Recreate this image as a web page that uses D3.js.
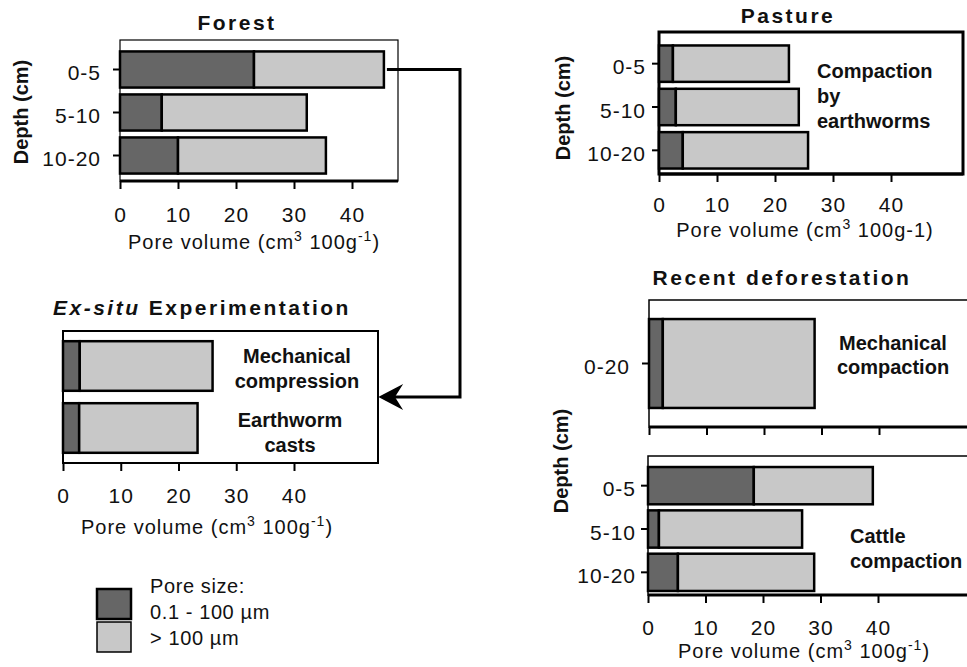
<!DOCTYPE html>
<html lang="en">
<head>
<meta charset="utf-8">
<title>Pore volume by land use</title>
<script src="https://d3js.org/d3.v7.min.js"></script>
<style>
  body { margin: 0; background: #fff; }
  text { font-family: "Liberation Sans", Arial, sans-serif; fill: #111; }
</style>
</head>
<body>
<div id="chart"></div>
<script>
// data (pore volume, cm3 100g-1)
const xTicks = [0, 10, 20, 30, 40];
const poreClasses = ["Pore size:", "0.1 - 100 µm", "> 100 µm"];

const forestDepths = ["0-5", "5-10", "10-20"];
const forestFine = [23.1, 7.2, 10.0];
const forestCoarse = [22.4, 25.0, 25.5];

const pastureDepths = ["0-5", "5-10", "10-20"];
const pastureFine = [2.4, 2.9, 4.1];
const pastureCoarse = [20.0, 21.2, 21.6];

const exsituTreatments = ["Mechanical compression", "Earthworm casts"];
const exsituFine = [2.9, 2.8];
const exsituCoarse = [23.0, 20.5];

const mechDepths = ["0-20"];
const mechFine = [2.4];
const mechCoarse = [26.4];

const cattleDepths = ["0-5", "5-10", "10-20"];
const cattleFine = [18.4, 1.9, 5.2];
const cattleCoarse = [20.7, 24.9, 23.7];

var width = 967, height = 667;
var svg = d3.select("#chart").append("svg")
  .attr("width", width).attr("height", height);

var color = d3.scaleOrdinal().domain(["fine", "coarse"]).range(["#666666", "#c8c8c8"]);

function drawPanel(p) {
  var g = svg.append("g");
  var x = d3.scaleLinear().domain([0, 40]).range([p.left, p.x40]);
  var y = d3.scaleBand().domain(p.cats).range(p.band)
    .paddingInner(p.pi).paddingOuter(p.po);
  var rows = p.cats.map(function(c, i) {
    return { cat: c, fine: p.fine[i], coarse: p.coarse[i] };
  });
  var series = d3.stack().keys(["fine", "coarse"])(rows);

  // frame
  g.append("rect")
    .attr("x", p.left).attr("y", p.top)
    .attr("width", p.right - p.left).attr("height", p.bottom - p.top)
    .attr("fill", "none").attr("stroke", "#000").attr("stroke-width", p.frameW);

  // stacked bars
  g.selectAll("g.series").data(series).join("g")
    .attr("class", "series")
    .attr("fill", function(d) { return color(d.key); })
    .selectAll("rect").data(function(d) { return d; }).join("rect")
    .attr("x", function(d) { return x(d[0]); })
    .attr("y", function(d) { return y(d.data.cat); })
    .attr("width", function(d) { return x(d[1]) - x(d[0]); })
    .attr("height", y.bandwidth())
    .attr("stroke", "#000").attr("stroke-width", 2.5);

  // x axis
  var ax = g.append("g").attr("transform", "translate(0," + p.bottom + ")")
    .call(d3.axisBottom(x).tickValues(xTicks).tickSize(8).tickPadding(p.tickPad)
      .tickFormat(p.noXLabels ? function() { return ""; } : d3.format("d")));
  ax.select(".domain").remove();
  ax.selectAll("line").attr("stroke", "#000").attr("stroke-width", 2);
  ax.selectAll("text").attr("font-size", 21).attr("font-family", null)
    .attr("letter-spacing", 1).attr("fill", "#111");
  g.append("line")
    .attr("x1", p.left).attr("x2", p.right)
    .attr("y1", p.bottom).attr("y2", p.bottom)
    .attr("stroke", "#000").attr("stroke-width", p.axisW);

  // y axis (ticks + labels only)
  if (p.yAxis) {
    var ay = g.append("g").attr("transform", "translate(" + p.left + ",0)")
      .call(d3.axisLeft(y).tickSize(7).tickPadding(p.yPad));
    ay.select(".domain").remove();
    ay.selectAll("line").attr("stroke", "#000").attr("stroke-width", 2);
    ay.selectAll("text").attr("font-size", 21).attr("font-family", null)
      .attr("letter-spacing", 1).attr("fill", "#111").attr("dy", "0.5em");
  }
  return { x: x, y: y };
}

function boldLabel(x, y, lines, anchor, lh) {
  var t = svg.append("text").attr("x", x).attr("y", y)
    .attr("text-anchor", anchor).attr("font-size", 20).attr("font-weight", "bold");
  lines.forEach(function(s, i) {
    t.append("tspan").attr("x", x).attr("dy", i ? lh : 0).text(s);
  });
}

function title(x, y, s, anchor) {
  return svg.append("text").attr("x", x).attr("y", y)
    .attr("text-anchor", anchor || "middle")
    .attr("font-size", 21).attr("font-weight", "bold")
    .attr("letter-spacing", 2.5).text(s);
}

function depthLabel(x, y) {
  svg.append("text")
    .attr("transform", "translate(" + x + "," + y + ") rotate(-90)")
    .attr("text-anchor", "middle").attr("font-size", 20).attr("font-weight", "bold")
    .text("Depth (cm)");
}

function poreLabel(x, y, supG) {
  var t = svg.append("text").attr("x", x).attr("y", y)
    .attr("text-anchor", "middle").attr("font-size", 20).attr("letter-spacing", 1);
  t.append("tspan").text("Pore volume (cm");
  t.append("tspan").attr("baseline-shift", "super").attr("font-size", 14).text("3");
  if (supG) {
    t.append("tspan").text(" 100g");
    t.append("tspan").attr("baseline-shift", "super").attr("font-size", 14).text("-1");
    t.append("tspan").text(")");
  } else {
    t.append("tspan").text(" 100g-1)");
  }
}

// ---- Forest ----
var forest = drawPanel({
  cats: forestDepths, fine: forestFine, coarse: forestCoarse,
  left: 120, top: 40, right: 398, bottom: 181, x40: 352,
  band: [48, 177], pi: 0.16, po: 0.08,
  frameW: 1.2, axisW: 3, tickPad: 18, yAxis: true, yPad: 12
});
title(237, 30, "Forest");
depthLabel(28, 112);
poreLabel(254, 249, true);

// ---- Pasture ----
drawPanel({
  cats: pastureDepths, fine: pastureFine, coarse: pastureCoarse,
  left: 659, top: 32, right: 963, bottom: 174, x40: 891,
  band: [42, 172], pi: 0.16, po: 0.08,
  frameW: 3, axisW: 3, tickPad: 15, yAxis: true, yPad: 6
});
title(788, 23, "Pasture");
depthLabel(570, 108);
poreLabel(805, 237, false);
boldLabel(817, 78, ["Compaction", "by", "earthworms"], "start", 25);

// ---- Ex-situ experimentation ----
var exsitu = drawPanel({
  cats: exsituTreatments, fine: exsituFine, coarse: exsituCoarse,
  left: 63, top: 331, right: 378, bottom: 463, x40: 294,
  band: [335, 459], pi: 0.2, po: 0.1,
  frameW: 2, axisW: 2, tickPad: 17, yAxis: false
});
var ext = svg.append("text").attr("x", 53).attr("y", 315)
  .attr("font-size", 21).attr("font-weight", "bold").attr("letter-spacing", 2.5);
ext.append("tspan").attr("font-style", "italic").text("Ex-situ");
ext.append("tspan").text(" Experimentation");
poreLabel(207, 534, true);
boldLabel(297, 363, ["Mechanical", "compression"], "middle", 25);
boldLabel(290, 427, ["Earthworm", "casts"], "middle", 25);

// ---- Recent deforestation ----
drawPanel({
  cats: mechDepths, fine: mechFine, coarse: mechCoarse,
  left: 649, top: 300, right: 985, bottom: 427, x40: 879,
  band: [300, 427], pi: 0.3, po: 0.15,
  frameW: 1.5, axisW: 3, tickPad: 15, yAxis: true, yPad: 12, noXLabels: true
});
drawPanel({
  cats: cattleDepths, fine: cattleFine, coarse: cattleCoarse,
  left: 648, top: 456, right: 985, bottom: 595, x40: 878,
  band: [464, 594], pi: 0.14, po: 0.07,
  frameW: 1.5, axisW: 3, tickPad: 17, yAxis: true, yPad: 5
});
title(782, 285, "Recent deforestation");
depthLabel(568, 461);
poreLabel(804, 658, true);
boldLabel(893, 350, ["Mechanical", "compaction"], "middle", 24);
boldLabel(850, 543, ["Cattle", "compaction"], "start", 25);

// ---- arrow from Forest 0-5 bar to ex-situ panel ----
var ax0 = forest.x(forestFine[0] + forestCoarse[0]) + 3;
var ay0 = forest.y(forestDepths[0]) + forest.y.bandwidth() / 2;
var ay1 = (331 + 463) / 2;
svg.append("path")
  .attr("d", "M" + ax0 + "," + ay0 + "H460V" + ay1 + "H390")
  .attr("fill", "none").attr("stroke", "#000").attr("stroke-width", 3);
svg.append("path")
  .attr("d", "M380," + ay1 + "L401," + (ay1 - 11) + "L394," + ay1 + "L401," + (ay1 + 11) + "Z")
  .attr("fill", "#000").attr("stroke", "#000").attr("stroke-width", 1.5);

// ---- legend ----
var leg = svg.append("g");
leg.selectAll("rect").data(["fine", "coarse"]).join("rect")
  .attr("x", 97).attr("y", function(d, i) { return 589 + i * 33; })
  .attr("width", 34).attr("height", 30)
  .attr("fill", function(d) { return color(d); })
  .attr("stroke", "#000").attr("stroke-width", function(d, i) { return i ? 1.5 : 2.5; });
leg.selectAll("text").data(poreClasses).join("text")
  .attr("x", 150).attr("y", function(d, i) { return 593 + i * 26; })
  .attr("font-size", 20).attr("letter-spacing", 0.6).text(function(d) { return d; });
</script>
</body>
</html>
